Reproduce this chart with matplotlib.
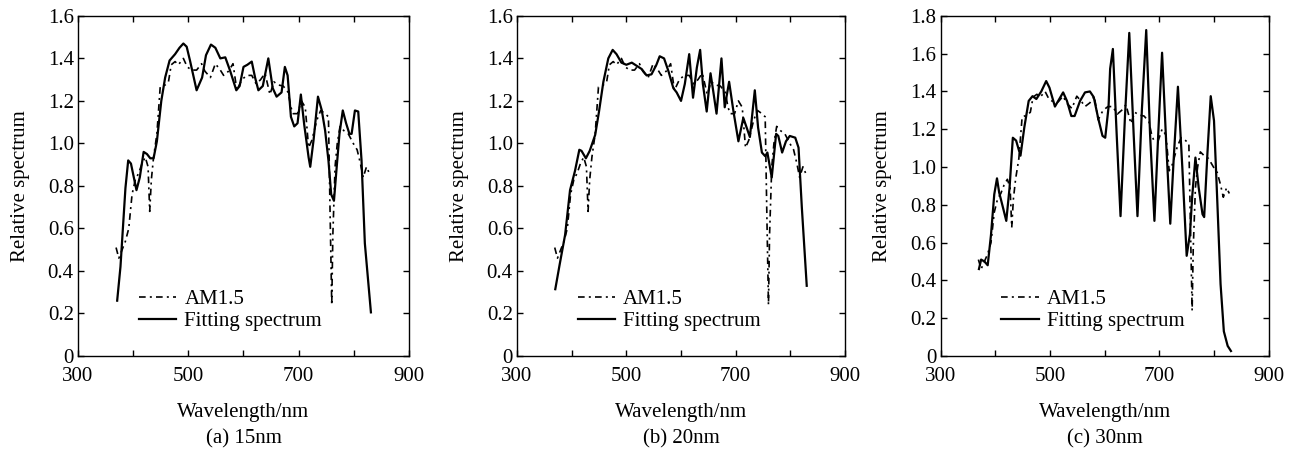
import matplotlib
matplotlib.use("Agg")
import matplotlib.pyplot as plt
from matplotlib.ticker import FuncFormatter

plt.rcParams['font.family'] = ['Liberation Serif', 'DejaVu Serif']
plt.rcParams['font.size'] = 15

# AM1.5 reference spectrum (same in all panels)
am_wl = [369, 374, 380, 386, 392, 398, 404, 410, 416, 422, 427, 430, 433, 437,
         443, 449, 458, 464, 469, 476, 482, 491, 498, 506, 515, 524, 530, 540,
         549, 558, 564, 573, 581, 588, 597, 606, 615, 623, 631, 639, 648, 655,
         663, 672, 681, 686, 690, 698, 705, 712, 718, 724, 733, 740, 748, 754,
         757, 760, 762, 766, 770, 775, 782, 790, 799, 806, 812, 817, 823, 828]
am_val = [0.51, 0.46, 0.50, 0.54, 0.60, 0.76, 0.83, 0.86, 0.905, 0.935, 0.89, 0.68,
          0.83, 0.935, 1.045, 1.265, 1.275, 1.29, 1.37, 1.385, 1.37, 1.40, 1.36,
          1.345, 1.345, 1.375, 1.34, 1.31, 1.375, 1.345, 1.32, 1.34, 1.375, 1.25,
          1.30, 1.32, 1.32, 1.28, 1.30, 1.33, 1.23, 1.29, 1.275, 1.27, 1.24, 1.17,
          1.14, 1.14, 1.20, 1.17, 0.98, 1.015, 1.11, 1.155, 1.14, 1.125, 0.67,
          0.24, 0.57, 0.89, 1.00, 1.08, 1.06, 1.045, 1.00, 0.97, 0.905, 0.84,
          0.89, 0.86]

# fitting spectrum, 15 nm
fit15_wl = [371, 377, 386, 391, 396, 406, 412, 419, 425, 431, 437, 443, 451, 458,
            466, 476, 484, 491, 497, 503, 515, 525, 532, 541, 549, 558, 567, 576,
            587, 593, 600, 607, 615, 621, 627, 635, 645, 653, 660, 669, 675, 680,
            686, 692, 698, 704, 710, 718, 721, 727, 735, 742, 748, 754, 759, 764,
            769, 774, 780, 786, 792, 796, 802, 808, 814, 820, 831]
fit15_val = [0.26, 0.42, 0.79, 0.92, 0.905, 0.78, 0.84, 0.96, 0.95, 0.93, 0.93,
             1.01, 1.20, 1.31, 1.39, 1.42, 1.45, 1.47, 1.455, 1.39, 1.25, 1.31,
             1.415, 1.465, 1.45, 1.40, 1.405, 1.34, 1.25, 1.27, 1.36, 1.37, 1.385,
             1.31, 1.25, 1.27, 1.40, 1.26, 1.22, 1.24, 1.36, 1.32, 1.125, 1.08,
             1.095, 1.23, 1.09, 0.935, 0.89, 1.015, 1.22, 1.155, 1.06, 0.92, 0.76,
             0.73, 0.89, 1.045, 1.155, 1.095, 1.045, 1.045, 1.155, 1.15, 0.92,
             0.53, 0.205]

# fitting spectrum, 20 nm
fit20_wl = [370, 378, 388, 397, 406, 414, 418, 426, 433, 443, 450, 458, 467, 475,
            482, 491, 500, 510, 519, 528, 537, 546, 555, 561, 569, 577, 586, 592,
            600, 607, 615, 622, 629, 635, 640, 647, 654, 659, 665, 674, 680, 688,
            696, 705, 714, 720, 726, 735, 741, 748, 754, 758, 766, 774, 778, 785,
            792, 799, 809, 815, 821, 830]
fit20_val = [0.314, 0.43, 0.57, 0.78, 0.87, 0.97, 0.965, 0.93, 0.965, 1.04, 1.15,
             1.29, 1.40, 1.44, 1.42, 1.38, 1.37, 1.38, 1.365, 1.35, 1.32, 1.325,
             1.37, 1.41, 1.40, 1.34, 1.26, 1.24, 1.20, 1.28, 1.42, 1.215, 1.357,
             1.44, 1.28, 1.15, 1.33, 1.245, 1.14, 1.40, 1.17, 1.29, 1.15, 1.01,
             1.12, 1.075, 1.03, 1.25, 1.075, 0.957, 0.94, 0.957, 0.84, 1.045,
             1.035, 0.957, 1.01, 1.035, 1.027, 0.98, 0.70, 0.33]

# fitting spectrum, 30 nm
fit30_wl = [370, 374, 380, 386, 392, 398, 403, 407, 414, 420, 426, 432, 438, 446,
            453, 461, 468, 475, 484, 493, 499, 509, 517, 524, 531, 539, 545, 555,
            564, 573, 580, 588, 596, 601, 607, 610, 615, 622, 629, 637, 645, 653,
            660, 668, 676, 683, 691, 698, 705, 713, 720, 726, 734, 742, 750, 756,
            760, 766, 772, 779, 782, 788, 794, 800, 806, 812, 818, 825, 831]
fit30_val = [0.46, 0.51, 0.50, 0.48, 0.64, 0.855, 0.94, 0.865, 0.785, 0.715, 0.89,
             1.155, 1.14, 1.06, 1.21, 1.35, 1.375, 1.36, 1.40, 1.455, 1.42, 1.32,
             1.36, 1.395, 1.35, 1.27, 1.27, 1.35, 1.395, 1.40, 1.37, 1.26, 1.165,
             1.155, 1.315, 1.52, 1.625, 1.17, 0.74, 1.26, 1.71, 1.175, 0.74, 1.30,
             1.725, 1.175, 0.715, 1.175, 1.605, 1.10, 0.70, 1.03, 1.425, 1.00,
             0.53, 0.645, 0.84, 1.05, 0.89, 0.75, 0.735, 1.075, 1.375, 1.245,
             0.82, 0.38, 0.13, 0.053, 0.026]

panels = [
    ("(a) 15nm", fit15_wl, fit15_val, 1.6, [0.06, 0.216, 0.2546, 0.749]),
    ("(b) 20nm", fit20_wl, fit20_val, 1.6, [0.3977, 0.216, 0.2523, 0.749]),
    ("(c) 30nm", fit30_wl, fit30_val, 1.8, [0.7236, 0.216, 0.2523, 0.749]),
]

x_ticks = [300, 400, 500, 600, 700, 800, 900]
x_labels = ["300", "", "500", "", "700", "", "900"]

fig = plt.figure(figsize=(13, 4.54), dpi=100)

for title, wl, val, ymax, pos in panels:
    ax = fig.add_axes(pos)
    ax.plot(am_wl, am_val, color='black', lw=1.2,
            linestyle=(0, (4, 2.5, 1.2, 2.5)), label='AM1.5')
    ax.plot(wl, val, color='black', lw=1.6, label='Fitting spectrum')
    ax.set_xlim(300, 900)
    ax.set_ylim(0, ymax)
    ax.set_xticks(x_ticks)
    ax.set_xticklabels(x_labels)
    yt = [round(0.2 * i, 1) for i in range(int(round(ymax / 0.2)) + 1)]
    ax.set_yticks(yt)
    ax.yaxis.set_major_formatter(FuncFormatter(lambda v, p: "0" if v == 0 else "%.1f" % v))
    ax.tick_params(direction='in', top=True, right=True, length=4, width=1,
                   labelsize=15, pad=3)
    ax.tick_params(axis='x', pad=8)
    for s in ax.spines.values():
        s.set_linewidth(1.0)
    ax.set_xlabel("Wavelength/nm", fontsize=15, labelpad=12)
    ax.set_ylabel("Relative spectrum", fontsize=15, labelpad=13)
    ax.text(0.5, -0.245, title, transform=ax.transAxes, ha='center', va='center',
            fontsize=15)
    ax.legend(loc='lower left', bbox_to_anchor=(0.14, 0.03), frameon=False,
              fontsize=15, handlelength=1.8, handletextpad=0.38, labelspacing=0.1,
              borderpad=0.2)

fig.savefig("out.png", dpi=100)
